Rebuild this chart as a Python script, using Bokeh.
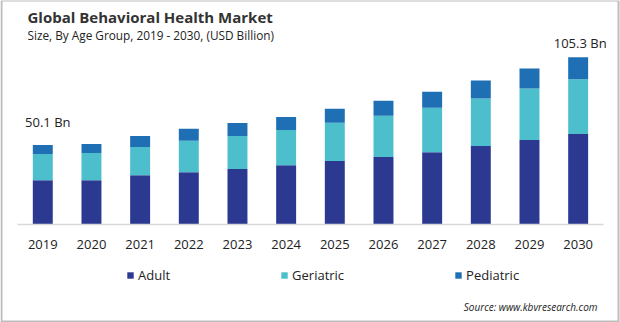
from bokeh.plotting import figure
from bokeh.models import (ColumnDataSource, Label, Legend, LegendItem, Range1d,
                          FixedTicker, BoxAnnotation)
from bokeh.core.properties import value
from bokeh.embed import file_html
from bokeh.resources import INLINE

years = ["2019", "2020", "2021", "2022", "2023", "2024",
         "2025", "2026", "2027", "2028", "2029", "2030"]
adult = [27.9, 27.9, 31.1, 33.0, 34.9, 37.4, 40.0, 42.5, 45.6, 49.5, 53.3, 57.0]
geriatric = [16.5, 17.1, 17.7, 19.7, 20.9, 22.2, 24.1, 26.0, 27.9, 29.8, 32.3, 34.5]
pediatric = [5.7, 5.7, 7.0, 7.6, 8.2, 8.2, 8.9, 9.5, 10.1, 11.4, 12.7, 13.8]
series = ["Adult", "Geriatric", "Pediatric"]
colors = ["#2b3990", "#4dbfcc", "#1f6fb5"]

title_text = "Global Behavioral Health Market"
subtitle_text = "Size, By Age Group, 2019 - 2030, (USD Billion)"
source_text = "Source: www.kbvresearch.com"

totals = [round(a + g + c, 1) for a, g, c in zip(adult, geriatric, pediatric)]
idx = list(range(len(years)))

FONT = "Open Sans"
W, H = 620, 322

src = ColumnDataSource(dict(x=idx, Adult=adult, Geriatric=geriatric, Pediatric=pediatric))

p = figure(width=W, height=H, output_backend="svg", toolbar_location=None,
           x_range=Range1d(-0.869, 11.870), y_range=Range1d(-61.7, 141.1),
           min_border=0, min_border_left=0, min_border_right=0,
           min_border_top=0, min_border_bottom=0)
p.outline_line_color = None
p.grid.visible = False
p.yaxis.visible = False
p.background_fill_color = "white"
p.border_fill_color = "white"

renderers = p.vbar_stack(series, x="x", width=0.41, color=colors, source=src, line_width=0)

xa = p.xaxis[0]
xa.fixed_location = 0
xa.bounds = (-0.52, 11.52)
xa.ticker = FixedTicker(ticks=idx)
xa.major_label_overrides = {i: y for i, y in zip(idx, years)}
xa.axis_line_color = "#d9d9d9"
xa.axis_line_width = 1.5
xa.major_tick_line_color = None
xa.major_tick_out = 0
xa.major_tick_in = 0
xa.minor_tick_line_color = None
xa.major_label_text_font = FONT
xa.major_label_text_font_size = "13px"
xa.major_label_text_color = "#222222"
xa.major_label_standoff = 15

# end labels
first = ColumnDataSource(dict(x=[idx[0]], y=[totals[0]], t=[f"{totals[0]} Bn"]))
last = ColumnDataSource(dict(x=[idx[-1]], y=[totals[-1]], t=[f"{totals[-1]} Bn"]))
for s, yo, xo in ((first, -23, 5), (last, -14, 2)):
    p.text(x="x", y="y", text="t", source=s, x_offset=xo, y_offset=yo,
           text_align="center", text_baseline="middle",
           text_font=value(FONT), text_font_size="13px", text_color="#222222")

legend = Legend(items=[LegendItem(label=n, renderers=[r]) for n, r in zip(series, renderers)],
                orientation="horizontal", location=(126, 38),
                glyph_width=8, glyph_height=8, label_standoff=4, spacing=110,
                padding=0, margin=0, border_line_color=None, background_fill_alpha=0,
                label_text_font=FONT, label_text_font_size="13px", label_text_color="#222222")
p.add_layout(legend, "center")

p.add_layout(Label(x=27, y=H - 6, x_units="screen", y_units="screen", text=title_text,
                   text_font=FONT, text_font_size="15px", text_font_style="bold",
                   text_color="#333333", text_baseline="top"))
p.add_layout(Label(x=27, y=H - 26, x_units="screen", y_units="screen", text=subtitle_text,
                   text_font=FONT, text_font_size="11.8px",
                   text_color="#222222", text_baseline="top"))
p.add_layout(Label(x=597, y=H - 306, x_units="screen", y_units="screen", text=source_text,
                   text_font=FONT, text_font_size="10px", text_font_style="italic",
                   text_color="#222222", text_align="right", text_baseline="middle"))

p.add_layout(BoxAnnotation(left=1, right=618, bottom=1, top=H,
                           left_units="screen", right_units="screen",
                           bottom_units="screen", top_units="screen",
                           fill_alpha=0, line_color="#222222", line_width=2,
                           border_radius=0))

open("out.html", "w").write(file_html(p, INLINE))
